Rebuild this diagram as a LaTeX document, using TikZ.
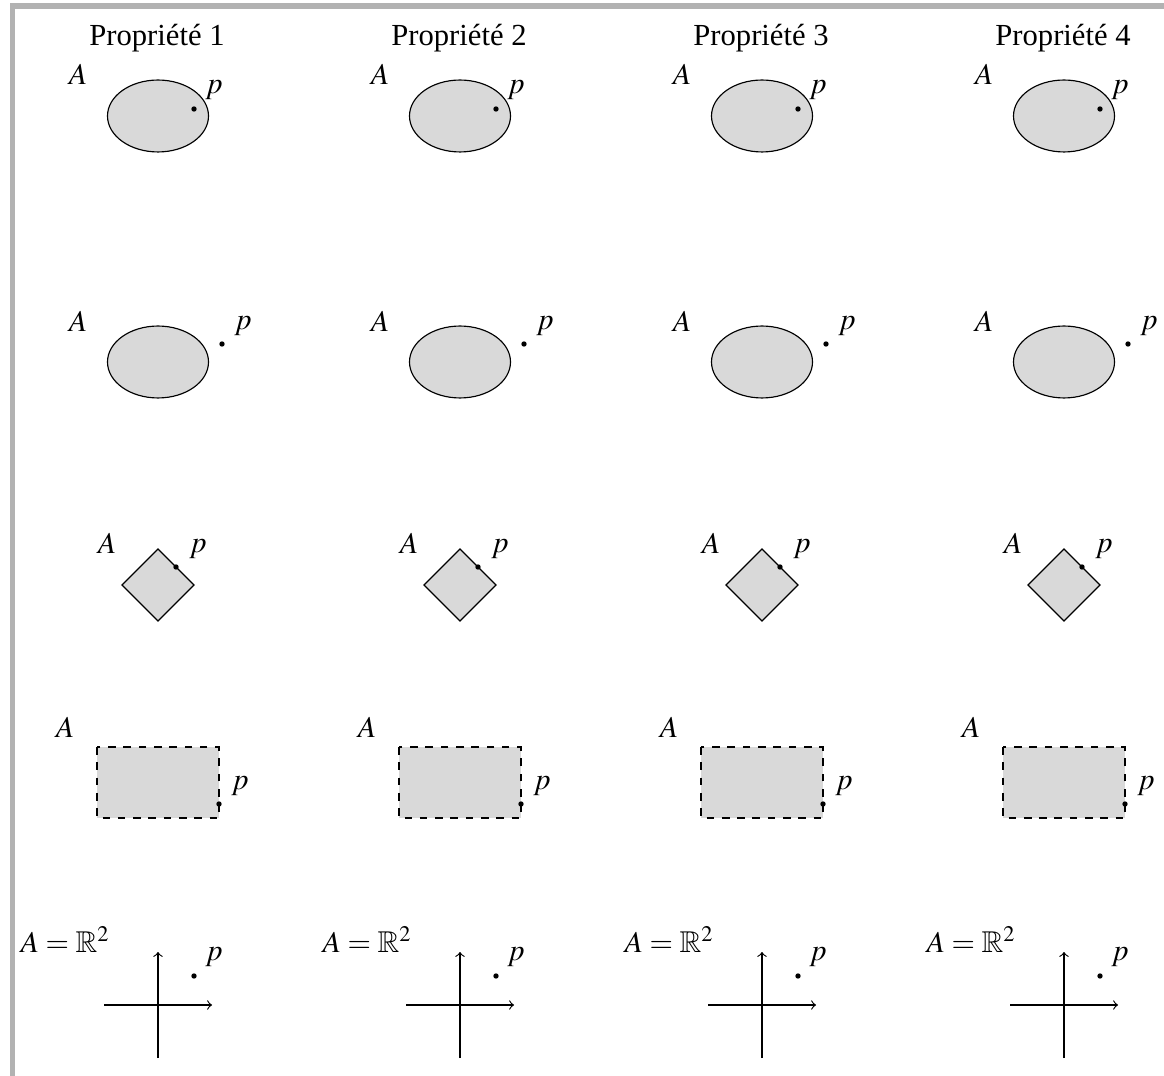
\documentclass[tikz,border=0pt]{standalone}
\usepackage{amssymb}
\usepackage{mathptmx}
\usepackage{fontspec}
\setmainfont{Liberation Serif}
\begin{document}
\begin{tikzpicture}[x=0.392pt,y=-0.392pt,
  region/.style={draw=black,fill=gray!30,line width=0.45pt},
  ptdot/.style={fill=black},
  lbl/.style={inner sep=0pt,font=\fontsize{11.8}{14}\selectfont},
  ttl/.style={inner sep=0pt,font=\fontsize{12}{14}\selectfont,anchor=base},
  frameline/.style={draw=gray!60,line width=2pt}]
\useasboundingbox (0,0) rectangle (1164,1076);
\draw[frameline] (12.5,1080) -- (12.5,6) -- (1170,6);
\foreach \i in {0,1,2,3}{
  \pgfmathsetmacro{\dx}{302*\i}
  \pgfmathtruncatemacro{\n}{\i+1}
  \begin{scope}[xshift=\dx*0.392pt]
    % title
    \node[ttl] (t\n) at (157,46) {Propriété \n};
    % row 1
    \draw[region] (158,116) ellipse [x radius=19.8pt, y radius=14.1pt];
    \node[lbl] (a1\n) at (78,74) {$A$};
    \coordinate (d1\n) at (194,109);
    \fill[ptdot] (d1\n) circle (1.05pt);
    \node[lbl] (p1\n) at (214,90) {$p$};
    % row 2
    \draw[region] (158,362) ellipse [x radius=19.8pt, y radius=14.1pt];
    \node[lbl] (a2\n) at (78,321) {$A$};
    \coordinate (d2\n) at (222,344);
    \fill[ptdot] (d2\n) circle (1.05pt);
    \node[lbl] (p2\n) at (243,326) {$p$};
    % row 3
    \draw[region] (158,549) -- (194,585) -- (158,621) -- (122,585) -- cycle;
    \node[lbl] (a3\n) at (107,543) {$A$};
    \coordinate (d3\n) at (176,567);
    \fill[ptdot] (d3\n) circle (1.05pt);
    \node[lbl] (p3\n) at (198,549) {$p$};
    % row 4
    \draw[region,dashed] (97,747) rectangle (219,818);
    \node[lbl] (a4\n) at (65,727) {$A$};
    \coordinate (d4\n) at (219,804);
    \fill[ptdot] (d4\n) circle (1.05pt);
    \node[lbl] (p4\n) at (240,786) {$p$};
    % row 5
    \node[lbl,anchor=base west] (a5\n) at (20,952) {$A=\mathbb{R}^2$};
    \coordinate (xl\n) at (104,1005);
    \coordinate (xr\n) at (212,1005);
    \coordinate (yb\n) at (158,1058);
    \coordinate (yt\n) at (158,952);
    \draw[->,line width=0.45pt] (xl\n) -- (xr\n);
    \draw[->,line width=0.45pt] (yb\n) -- (yt\n);
    \coordinate (d5\n) at (194,976);
    \fill[ptdot] (d5\n) circle (1.05pt);
    \node[lbl] (p5\n) at (214,957) {$p$};
  \end{scope}
}
\end{tikzpicture}
\end{document}
